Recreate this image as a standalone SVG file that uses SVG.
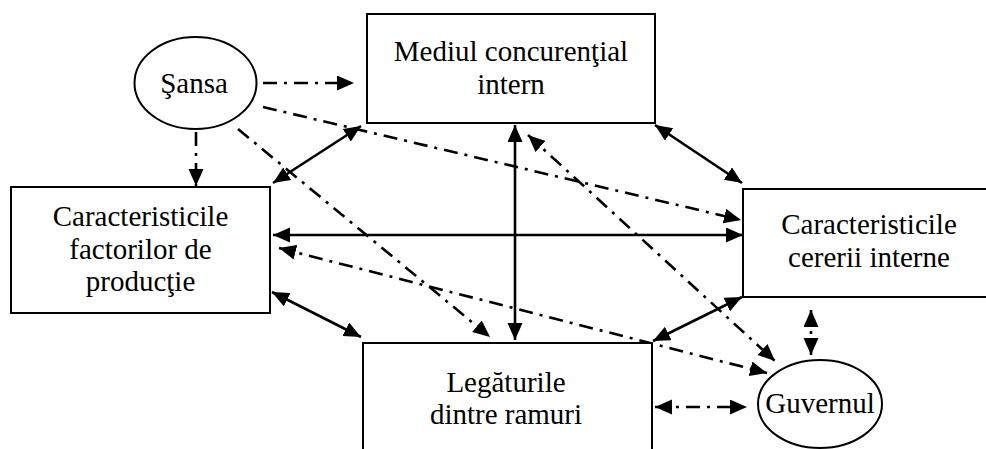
<svg xmlns="http://www.w3.org/2000/svg" width="986" height="449" viewBox="0 0 986 449">
  <style>
    .box { fill: #fff; stroke: #000; stroke-width: 2; }
    .lbl { font-family: 'Liberation Serif', 'DejaVu Serif', serif; font-size: 29px; fill: #000; text-anchor: middle; }
    .solid { fill: none; stroke: #000; stroke-width: 2.6; marker-start: url(#ah); marker-end: url(#ah); }
    .dd { fill: none; stroke: #000; stroke-width: 2.6; stroke-dasharray: 14 7 3 7; }
    .one { marker-end: url(#ah); }
    .two { marker-start: url(#ah); marker-end: url(#ah); }
  </style>
  <defs>
    <marker id="ah" markerUnits="userSpaceOnUse" markerWidth="18" markerHeight="16" refX="17" refY="7.5" orient="auto-start-reverse">
      <path d="M0,0 L17,7.5 L0,15 Z" fill="#000"/>
    </marker>
  </defs>
  <rect width="986" height="449" fill="#fff"/>

  <!-- connectors -->
  <g id="connectors">
    <!-- solid two-way links -->
    <line class="solid" x1="361" y1="126" x2="273" y2="183"/>
    <line class="solid" x1="655" y1="125" x2="742" y2="183"/>
    <line class="solid" x1="515" y1="125" x2="515" y2="340"/>
    <line class="solid" x1="273" y1="235" x2="743" y2="235"/>
    <line class="solid" x1="272" y1="292" x2="361" y2="337"/>
    <line class="solid" x1="653" y1="341" x2="742" y2="297"/>
    <!-- chance influences -->
    <line class="dd one" x1="263" y1="83" x2="354" y2="83"/>
    <line class="dd one" x1="196" y1="132" x2="196" y2="186"/>
    <line class="dd one" x1="263" y1="107" x2="741" y2="220"/>
    <line class="dd one" x1="238" y1="129" x2="490" y2="337"/>
    <!-- government influences -->
    <line class="dd two" x1="528" y1="135" x2="775" y2="361"/>
    <line class="dd two" x1="279" y1="248" x2="767" y2="373"/>
    <line class="dd two" x1="655" y1="407" x2="747" y2="407"/>
    <line class="dd two" x1="811" y1="310" x2="811" y2="355"/>
  </g>

  <g id="sansa">
    <ellipse class="box" cx="195.5" cy="83" rx="61" ry="46"/>
    <text class="lbl" x="194" y="93">Şansa</text>
  </g>

  <g id="mediul">
    <rect class="box" x="367" y="14" width="288" height="109"/>
    <text class="lbl" x="511" y="61">Mediul concurenţial</text>
    <text class="lbl" x="511" y="94">intern</text>
  </g>

  <g id="factori">
    <rect class="box" x="11" y="187" width="259" height="126"/>
    <text class="lbl" x="140.5" y="226">Caracteristicile</text>
    <text class="lbl" x="140.5" y="259">factorilor de</text>
    <text class="lbl" x="140.5" y="291">producţie</text>
  </g>

  <g id="cerere">
    <rect class="box" x="743" y="189" width="252" height="108"/>
    <text class="lbl" x="869" y="234">Caracteristicile</text>
    <text class="lbl" x="869" y="267">cererii interne</text>
  </g>

  <g id="legaturi">
    <rect class="box" x="363" y="343" width="289" height="120"/>
    <text class="lbl" x="506" y="392">Legăturile</text>
    <text class="lbl" x="506" y="424">dintre ramuri</text>
  </g>

  <g id="guvernul">
    <ellipse class="box" cx="820" cy="404" rx="62" ry="44"/>
    <text class="lbl" x="820" y="413">Guvernul</text>
  </g>
</svg>
